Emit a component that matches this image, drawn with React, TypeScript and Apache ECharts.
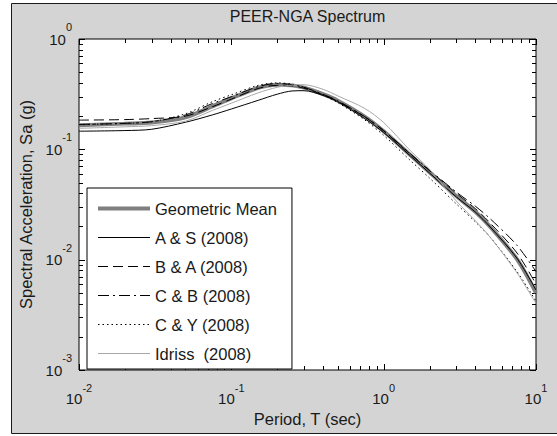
import React, { useEffect, useRef } from 'react';
import * as echarts from 'echarts';

// Spectral periods (sec)
const periods = [0.01, 0.02, 0.03, 0.05, 0.075, 0.1, 0.15, 0.2, 0.25, 0.3, 0.4, 0.5, 0.75, 1, 1.5, 2, 3, 4, 5, 7.5, 10];

// Spectral acceleration (g) for each ground-motion model
const geometricMean = [0.165, 0.171, 0.175, 0.195, 0.245, 0.29, 0.36, 0.385, 0.38, 0.362, 0.316, 0.276, 0.198, 0.146, 0.0885, 0.062, 0.0377, 0.0272, 0.0199, 0.0101, 0.005];
const abrahamsonSilva = [0.146, 0.148, 0.152, 0.176, 0.205, 0.232, 0.278, 0.316, 0.338, 0.34, 0.308, 0.27, 0.19, 0.142, 0.087, 0.061, 0.037, 0.027, 0.0198, 0.0103, 0.0053];
const booreAtkinson = [0.184, 0.186, 0.19, 0.2, 0.243, 0.285, 0.356, 0.38, 0.376, 0.358, 0.312, 0.272, 0.197, 0.147, 0.09, 0.064, 0.04, 0.029, 0.0215, 0.0115, 0.006];
const campbellBozorgnia = [0.168, 0.172, 0.178, 0.205, 0.26, 0.3, 0.37, 0.395, 0.385, 0.365, 0.315, 0.275, 0.198, 0.148, 0.091, 0.065, 0.041, 0.0305, 0.0235, 0.0135, 0.0078];
const chiouYoungs = [0.167, 0.172, 0.178, 0.21, 0.27, 0.312, 0.38, 0.4, 0.39, 0.365, 0.31, 0.265, 0.185, 0.134, 0.079, 0.055, 0.032, 0.022, 0.016, 0.0078, 0.0042];
const idriss = [0.155, 0.16, 0.164, 0.18, 0.225, 0.262, 0.325, 0.365, 0.382, 0.385, 0.35, 0.305, 0.235, 0.175, 0.097, 0.066, 0.034, 0.0225, 0.016, 0.0076, 0.004];

const seriesNames = ['Geometric Mean', 'A & S (2008)', 'B & A (2008)', 'C & B (2008)', 'C & Y (2008)', 'Idriss  (2008)'];

// Axis ranges (decades)
const X_MIN = 0.01;
const X_MAX = 10;
const Y_MIN = 0.001;
const Y_MAX = 1;
const X_DECADES = [-2, -1, 0, 1];
const Y_DECADES = [-3, -2, -1, 0];
const MINOR_MULTIPLIERS = [2, 3, 4, 5, 6, 7, 8, 9];

const FONT = 'Liberation Sans, Arial, Helvetica, sans-serif';
const TEXT = '#1a1a1a';

// Tick marks on all four sides of the box: [x, y, axis (0 = x, 1 = y), length]
function buildTicks() {
  const out: number[][] = [];
  X_DECADES.forEach((e) => {
    const base = Math.pow(10, e);
    out.push([base, Y_MIN, 0, 6]);
    if (e < X_DECADES[X_DECADES.length - 1]) {
      MINOR_MULTIPLIERS.forEach((m) => out.push([m * base, Y_MIN, 0, 4]));
    }
  });
  Y_DECADES.forEach((e) => {
    const base = Math.pow(10, e);
    out.push([X_MIN, base, 1, 6]);
    if (e < Y_DECADES[Y_DECADES.length - 1]) {
      MINOR_MULTIPLIERS.forEach((m) => out.push([X_MIN, m * base, 1, 4]));
    }
  });
  return out;
}

const pairs = (vals: number[]) => periods.map((t, i) => [t, vals[i]]);

export default function App() {
  const ref = useRef<HTMLDivElement>(null);

  useEffect(() => {
    if (!ref.current) return;
    const chart = echarts.init(ref.current, null, { renderer: 'svg' });

    // "10" with a raised exponent
    const powLabel = (v: number) => `{b|10}{e|${Math.round(Math.log10(v))}}`;

    const lineSeries = (name: string, data: number[], color: string, width: number, type: any) => ({
      name,
      type: 'line',
      data: pairs(data),
      symbol: 'none',
      smooth: 0.3,
      lineStyle: { color, width, type },
      itemStyle: { color },
      emphasis: { disabled: true },
    });

    const option: any = {
      animation: false,
      backgroundColor: '#ffffff',
      graphic: [
        {
          type: 'rect',
          z: -10,
          silent: true,
          shape: { x: 11.5, y: 3.5, width: 560, height: 430 },
          style: { fill: '#d4d4d4', stroke: '#1a1a1a', lineWidth: 1 },
        },
      ],
      title: {
        text: 'PEER-NGA Spectrum',
        left: 307.5,
        top: 8,
        textAlign: 'center',
        padding: 0,
        textStyle: { fontFamily: FONT, fontSize: 16, fontWeight: 'normal', color: TEXT },
      },
      grid: {
        left: 79,
        top: 39,
        width: 457,
        height: 331,
        show: true,
        backgroundColor: '#ffffff',
        borderColor: '#000000',
        borderWidth: 1,
      },
      legend: {
        data: seriesNames,
        orient: 'vertical',
        left: 87,
        top: 188,
        padding: [12, 15, 7, 9],
        itemWidth: 52,
        itemHeight: 16,
        itemGap: 12,
        backgroundColor: '#ffffff',
        borderColor: '#000000',
        borderWidth: 1,
        borderRadius: 0,
        itemStyle: { opacity: 0 },
        lineStyle: { width: 'inherit' },
        textStyle: { fontFamily: FONT, fontSize: 16.5, lineHeight: 16, color: TEXT },
      },
      xAxis: {
        type: 'log',
        logBase: 10,
        min: X_MIN,
        max: X_MAX,
        name: 'Period, T (sec)',
        nameLocation: 'middle',
        nameGap: 39,
        nameTextStyle: { fontFamily: FONT, fontSize: 16.5, color: TEXT },
        axisLine: { show: false },
        axisTick: { show: false },
        splitLine: { show: false },
        minorTick: { show: false },
        axisLabel: {
          interval: 0,
          margin: 12.5,
          showMinLabel: true,
          showMaxLabel: true,
          formatter: powLabel,
          rich: {
            b: { fontFamily: FONT, fontSize: 15, lineHeight: 23, color: TEXT, verticalAlign: 'bottom' },
            e: { fontFamily: FONT, fontSize: 11, lineHeight: 11, color: TEXT, verticalAlign: 'top' },
          },
        },
      },
      yAxis: {
        type: 'log',
        logBase: 10,
        min: Y_MIN,
        max: Y_MAX,
        name: 'Spectral Acceleration, Sa (g)',
        nameLocation: 'middle',
        nameGap: 39,
        nameTextStyle: { fontFamily: FONT, fontSize: 16.5, color: TEXT },
        axisLine: { show: false },
        axisTick: { show: false },
        splitLine: { show: false },
        minorTick: { show: false },
        axisLabel: {
          interval: 0,
          margin: 7,
          showMinLabel: true,
          showMaxLabel: true,
          formatter: powLabel,
          rich: {
            b: { fontFamily: FONT, fontSize: 15, lineHeight: 35, color: TEXT, verticalAlign: 'bottom', padding: [0, 0, 10, 0] },
            e: { fontFamily: FONT, fontSize: 11, lineHeight: 11, color: TEXT, verticalAlign: 'top' },
          },
        },
      },
      series: [
        lineSeries(seriesNames[0], geometricMean, '#7f7f7f', 4, 'solid'),
        lineSeries(seriesNames[1], abrahamsonSilva, '#000000', 1, 'solid'),
        lineSeries(seriesNames[2], booreAtkinson, '#000000', 1, [10, 5]),
        lineSeries(seriesNames[3], campbellBozorgnia, '#000000', 1, [11, 4, 2, 4]),
        lineSeries(seriesNames[4], chiouYoungs, '#000000', 1, [1.5, 3]),
        lineSeries(seriesNames[5], idriss, '#a8a8a8', 1, 'solid'),
        {
          name: 'axisTicks',
          type: 'custom',
          silent: true,
          clip: false,
          encode: { x: 0, y: 1 },
          data: buildTicks(),
          renderItem: (_params: any, api: any) => {
            const xv = api.value(0);
            const yv = api.value(1);
            const axis = api.value(2);
            const len = api.value(3);
            const style = { stroke: '#000000', lineWidth: 1 };
            if (axis === 0) {
              const b = api.coord([xv, Y_MIN]);
              const t = api.coord([xv, Y_MAX]);
              const x = Math.round(b[0]) + 0.5;
              return {
                type: 'group',
                children: [
                  { type: 'line', shape: { x1: x, y1: b[1], x2: x, y2: b[1] - len }, style },
                  { type: 'line', shape: { x1: x, y1: t[1], x2: x, y2: t[1] + len }, style },
                ],
              };
            }
            const l = api.coord([X_MIN, yv]);
            const r = api.coord([X_MAX, yv]);
            const y = Math.round(l[1]) + 0.5;
            return {
              type: 'group',
              children: [
                { type: 'line', shape: { x1: l[0], y1: y, x2: l[0] + len, y2: y }, style },
                { type: 'line', shape: { x1: r[0], y1: y, x2: r[0] - len, y2: y }, style },
              ],
            };
          },
        },
      ],
    };

    chart.setOption(option);
    return () => chart.dispose();
  }, []);

  return (
    <div
      ref={ref}
      style={{ position: 'fixed', left: 0, top: 0, width: 557, height: 436, background: '#ffffff' }}
    />
  );
}
